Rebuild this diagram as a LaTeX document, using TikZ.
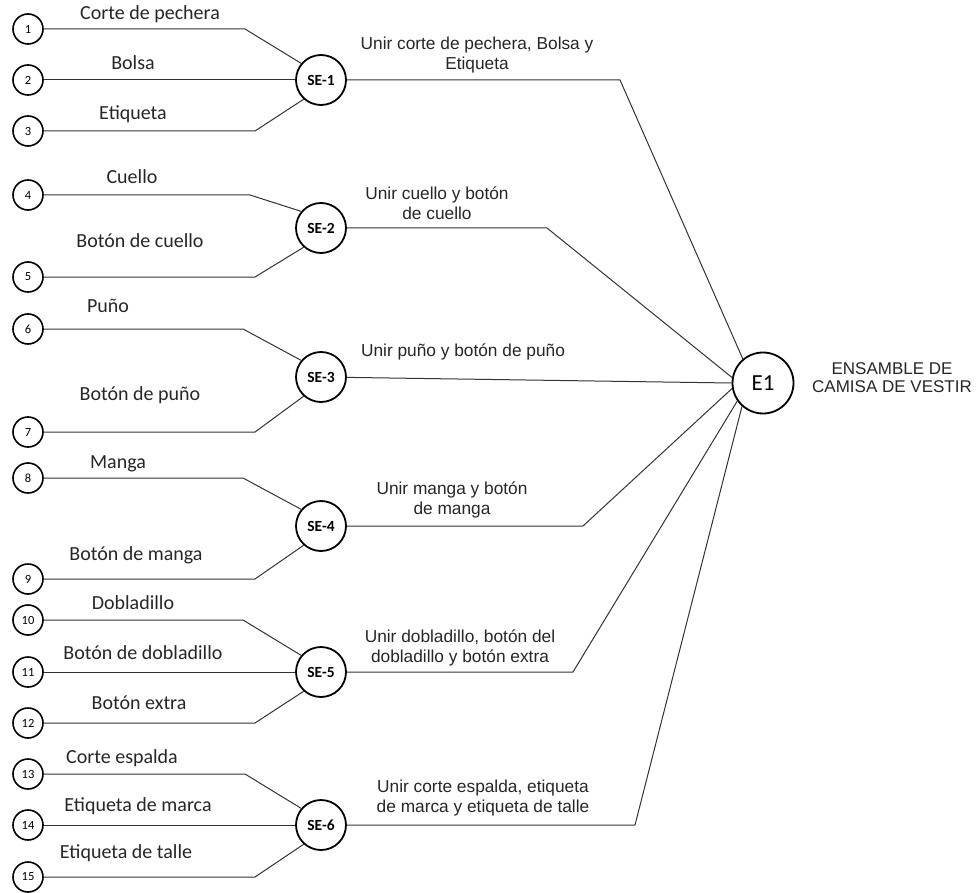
\documentclass[tikz,border=0pt]{standalone}
\usepackage{fontspec}
\setmainfont{Carlito}
\newfontfamily\joinfont{Liberation Sans}
\usetikzlibrary{calc}
\tikzset{
	piece/.style={circle, draw, line width=1.6pt, minimum size=30pt, inner sep=0pt, font=\fontsize{12.5}{12}\selectfont},
	subassy/.style={circle, draw, line width=1.8pt, minimum size=50pt, inner sep=0pt, font=\fontsize{15.5}{16}\selectfont\bfseries},
	assy/.style={circle, draw, line width=1.8pt, minimum size=61pt, inner sep=0pt, font=\fontsize{23}{23}\selectfont},
	partname/.style={inner sep=0pt, text height=0.7em, text depth=0.2em, text=black!85, font=\fontsize{20}{20}\selectfont},
	joinname/.style={inner sep=0pt, align=center, text=black!85, font=\joinfont\fontsize{17.3}{20}\selectfont},
	wire/.style={line width=1pt, color=black!80},
}

\begin{document}
\begin{tikzpicture}[x=1pt, y=-1pt]
			%%%%% START %%%%%
			
			\useasboundingbox (0, 0) rectangle (979, 893);
			
			\node[piece] (p1) at (28, 29) {1};
			\node[piece] (p2) at (28, 80) {2};
			\node[piece] (p3) at (28, 131) {3};
			\node[piece] (p4) at (28, 195) {4};
			\node[piece] (p5) at (28, 277) {5};
			\node[piece] (p6) at (28, 329) {6};
			\node[piece] (p7) at (28, 432) {7};
			\node[piece] (p8) at (28, 478) {8};
			\node[piece] (p9) at (28, 579) {9};
			\node[piece] (p10) at (28, 620) {10};
			\node[piece] (p11) at (28, 672) {11};
			\node[piece] (p12) at (28, 723) {12};
			\node[piece] (p13) at (28, 774) {13};
			\node[piece] (p14) at (28, 825) {14};
			\node[piece] (p15) at (28, 877) {15};
			
			\node[partname] (n1) at (150, 17) {Corte de pechera};
			\node[partname] (n2) at (133, 67) {Bolsa};
			\node[partname] (n3) at (133, 117) {Etiqueta};
			\node[partname] (n4) at (132, 181) {Cuello};
			\node[partname] (n5) at (140, 245) {Botón de cuello};
			\node[partname] (n6) at (108, 310) {Puño};
			\node[partname] (n7) at (140, 398) {Botón de puño};
			\node[partname] (n8) at (118, 466) {Manga};
			\node[partname] (n9) at (136, 558) {Botón de manga};
			\node[partname] (n10) at (133, 607) {Dobladillo};
			\node[partname] (n11) at (143, 657) {Botón de dobladillo};
			\node[partname] (n12) at (139, 707) {Botón extra};
			\node[partname] (n13) at (122, 761) {Corte espalda};
			\node[partname] (n14) at (138, 809) {Etiqueta de marca};
			\node[partname] (n15) at (126, 856) {Etiqueta de talle};
			
			\node[subassy] (se1) at (321, 80) {SE-1};
			\node[subassy] (se2) at (321, 228) {SE-2};
			\node[subassy] (se3) at (321, 377) {SE-3};
			\node[subassy] (se4) at (321, 526) {SE-4};
			\node[subassy] (se5) at (321, 672) {SE-5};
			\node[subassy] (se6) at (321, 825) {SE-6};
			
			\node[assy] (e1) at (763, 383) {E1};
			\node[joinname, font=\joinfont\fontsize{17}{18}\selectfont] (title) at (892, 378) {ENSAMBLE DE\\CAMISA DE VESTIR};
			
			\node[joinname] (j1txt) at (477, 55) {Unir corte de pechera, Bolsa y\\Etiqueta};
			\node[joinname] (j2txt) at (437, 203) {Unir cuello y botón\\de cuello};
			\node[joinname] (j3txt) at (463, 352) {Unir puño y botón de puño};
			\node[joinname] (j4txt) at (452, 500) {Unir manga y botón\\de manga};
			\node[joinname] (j5txt) at (460, 648) {Unir dobladillo, botón del\\dobladillo y botón extra};
			\node[joinname] (j6txt) at (483, 798) {Unir corte espalda, etiqueta\\de marca y etiqueta de talle};
			
			% bends of the input lines
			\coordinate (b1) at (245, 29);
			\coordinate (b3) at (255, 131);
			\coordinate (b4) at (250, 195);
			\coordinate (b5) at (255, 277);
			\coordinate (b6) at (243, 329);
			\coordinate (b7) at (255, 432);
			\coordinate (b8) at (243, 478);
			\coordinate (b9) at (255, 579);
			\coordinate (b10) at (243, 620);
			\coordinate (b12) at (255, 723);
			\coordinate (b13) at (245, 774);
			\coordinate (b15) at (255, 877);
			
			\draw[wire] (p1) -- (b1) -- (se1.140);
			\draw[wire] (p2) -- (se1);
			\draw[wire] (p3) -- (b3) -- (se1.228);
			
			\draw[wire] (p4) -- (b4) -- (se2.140);
			\draw[wire] (p5) -- (b5) -- (se2.228);
			
			\draw[wire] (p6) -- (b6) -- (se3.140);
			\draw[wire] (p7) -- (b7) -- (se3.228);
			
			\draw[wire] (p8) -- (b8) -- (se4.140);
			\draw[wire] (p9) -- (b9) -- (se4.228);
			
			\draw[wire] (p10) -- (b10) -- (se5.140);
			\draw[wire] (p11) -- (se5);
			\draw[wire] (p12) -- (b12) -- (se5.228);
			
			\draw[wire] (p13) -- (b13) -- (se6.140);
			\draw[wire] (p14) -- (se6);
			\draw[wire] (p15) -- (b15) -- (se6.228);
			
			% bends of the output lines
			\coordinate (j1) at (620, 80);
			\coordinate (j2) at (547, 228);
			\coordinate (j4) at (583, 526);
			\coordinate (j5) at (573, 672);
			\coordinate (j6) at (635, 825);
			
			\draw[wire] (se1) -- (j1) -- (e1.130);
			\draw[wire] (se2) -- (j2) -- (e1.170);
			\draw[wire] (se3) -- (e1.west);
			\draw[wire] (se4) -- (j4) -- (e1.190);
			\draw[wire] (se5) -- (j5) -- (e1.215);
			\draw[wire] (se6) -- (j6) -- (e1.228);
			
			%%%%% END %%%%%
		\end{tikzpicture}
\end{document}
